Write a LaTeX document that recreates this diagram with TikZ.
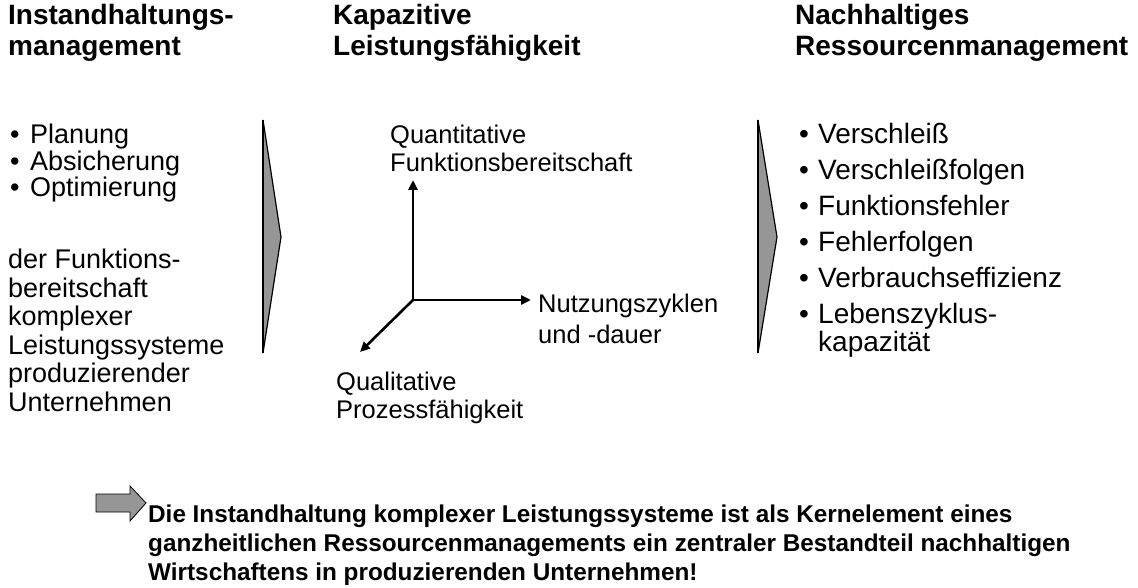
\documentclass[tikz,border=0pt]{standalone}
\usepackage{fontspec}
\setmainfont{Liberation Sans}
\usetikzlibrary{arrows.meta}
\usetikzlibrary{positioning}

\definecolor{chevgray}{RGB}{150,150,150}

\begin{document}
\begin{tikzpicture}[
                x=1pt, y=-1pt,
                every node/.style={
                        inner sep=0pt,
                        anchor=north west,
                        align=left,
                        font=\fontsize{27}{28.5}\selectfont
                    },
                headnode/.style={
                        font=\fontsize{28}{31}\selectfont\bfseries
                    },
                axislabel/.style={
                        font=\fontsize{25.5}{28}\selectfont
                    },
                chevron/.style={
                        fill=chevgray,
                        draw=black,
                        line width=1.2pt,
                        line join=miter
                    },
                axis/.style={
                        line width=2.6pt,
                        -{Triangle[length=10pt,width=9pt]}
                    }
            ]
            \useasboundingbox (0,0) rectangle (1138,588);

            % Headings
            \node[headnode] (Ahead) at (8,4) {Instandhaltungs-\\management};
            \node[headnode] (Bhead) at (333,4) {Kapazitive\\Leistungsf\"ahigkeit};
            \node[headnode] (Chead) at (795,4) {Nachhaltiges\\Ressourcenmanagement};

            % Left column
            \node[font=\fontsize{27}{26.5}\selectfont] (Alist) at (10,124)
                {\makebox[20pt][l]{•}Planung\\\makebox[20pt][l]{•}Absicherung\\\makebox[20pt][l]{•}Optimierung};
            \node (Atext) at (8,249) {der Funktions-\\bereitschaft\\komplexer\\Leistungssysteme\\produzierender\\Unternehmen};

            % Chevrons
            \filldraw[chevron] (263,120) -- (281,237) -- (263,353) -- cycle;
            \draw[line width=2.6pt] (263,120) -- (263,353);
            \filldraw[chevron] (758,120) -- (777,237) -- (758,353) -- cycle;
            \draw[line width=2.6pt] (758,120) -- (758,353);

            % Axes
            \coordinate (O) at (413,300);
            \coordinate (Otop) at (413,180);
            \coordinate (Oright) at (531,300);
            \coordinate (Odiag) at (360,352);
            \draw[axis] (O) -- (Otop);
            \draw[axis] (O) -- (Oright);
            \draw[axis] (O) -- (Odiag);

            \node[axislabel] (Qtop) at (390,125) {Quantitative\\Funktionsbereitschaft};
            \node[axislabel, font=\fontsize{25.5}{31}\selectfont] (Nright) at (538,294) {Nutzungszyklen\\und -dauer};
            \node[axislabel] (Qdiag) at (336,372) {Qualitative\\Prozessf\"ahigkeit};

            % Right column
            \node[font=\fontsize{28}{28}\selectfont] (Clist) at (799,123)
                {\makebox[19pt][l]{•}Verschlei\ss\\[8pt]
                 \makebox[19pt][l]{•}Verschlei\ss folgen\\[8pt]
                 \makebox[19pt][l]{•}Funktionsfehler\\[8pt]
                 \makebox[19pt][l]{•}Fehlerfolgen\\[8pt]
                 \makebox[19pt][l]{•}Verbrauchseffizienz\\[8pt]
                 \makebox[19pt][l]{•}Lebenszyklus-\\
                 \hspace*{19pt}kapazit\"at};

            % Conclusion
            \filldraw[chevron, line width=0.8pt] (96,494) -- (130,494) -- (130,486) -- (146,503)
                -- (130,521) -- (130,512) -- (96,512) -- cycle;
            \node[font=\fontsize{24.3}{29}\selectfont\bfseries] (Concl) at (148,505)
                {Die Instandhaltung komplexer Leistungssysteme ist als Kernelement eines\\
                 ganzheitlichen Ressourcenmanagements ein zentraler Bestandteil nachhaltigen\\
                 Wirtschaftens in produzierenden Unternehmen!};

        \end{tikzpicture}
\end{document}
